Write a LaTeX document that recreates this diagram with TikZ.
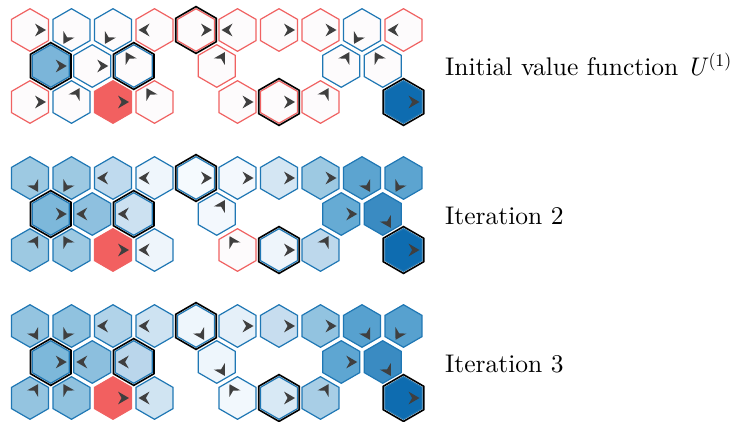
\documentclass[tikz,border=0pt]{standalone}
\usepackage{fontspec}
\newfontfamily\labfont{lmroman10-regular.otf}[ItalicFont=lmroman10-italic.otf]
\usetikzlibrary{shapes.geometric}
\definecolor{redl}{HTML}{F06262}
\definecolor{bluel}{HTML}{1F77B4}
\definecolor{arrowc}{HTML}{3F3F3F}
\tikzset{
  hexcell/.style={regular polygon, regular polygon sides=6, shape border rotate=30,
    minimum size=42.6pt, inner sep=0pt, outer sep=0pt, line width=1.2pt},
  hexblack/.style={regular polygon, regular polygon sides=6, shape border rotate=30,
    minimum size=46.8pt, inner sep=0pt, outer sep=0pt, line width=1.6pt, draw=black},
  labeltext/.style={anchor=base west, inner sep=0pt, font=\labfont\fontsize{25.5}{30}\selectfont}
}
\newcommand\gyoff{0}
\newcommand\gname{a}
\newcommand\cell[6]{%
  \pgfmathsetmacro\cx{30+41.5*#2+20.75*mod(#1,2)}%
  \pgfmathsetmacro\cy{-(30+\gyoff+36*#1)}%
  \definecolor{tmpf}{HTML}{#3}%
  \node[hexcell, fill=tmpf, draw=#4] (\gname r#1c#2) at (\cx,\cy) {};
  \ifnum#6=1 \node[hexblack] (\gname r#1c#2k) at (\cx,\cy) {};\fi
  \begin{scope}[shift={(\gname r#1c#2.center)}, rotate=#5]
    \fill[arrowc] (16,0) -- (5,6.4) -- (8.6,0) -- (5,-6.4) -- cycle;
  \end{scope}
}
\begin{document}
\begin{tikzpicture}[x=1pt,y=1pt]
\useasboundingbox[fill=white] (0,0) rectangle (746,-422);
% ---------- grid 1 ----------
\renewcommand\gyoff{0}\renewcommand\gname{a}
\cell{0}{0}{FDFBFC}{redl}{0}{0}
\cell{0}{1}{FDFBFC}{bluel}{240}{0}
\cell{0}{2}{FDFBFC}{bluel}{240}{0}
\cell{0}{3}{FDFBFC}{redl}{180}{0}
\cell{0}{4}{FDFBFC}{redl}{0}{1}
\cell{0}{5}{FDFBFC}{redl}{180}{0}
\cell{0}{6}{FDFBFC}{redl}{0}{0}
\cell{0}{7}{FDFBFC}{redl}{0}{0}
\cell{0}{8}{FDFBFC}{bluel}{240}{0}
\cell{0}{9}{FDFBFC}{redl}{180}{0}
\cell{1}{0}{7BB5D9}{bluel}{0}{1}
\cell{1}{1}{FDFBFC}{bluel}{0}{0}
\cell{1}{2}{FDFBFC}{bluel}{120}{1}
\cell{1}{4}{FDFBFC}{redl}{60}{0}
\cell{1}{7}{FDFBFC}{bluel}{60}{0}
\cell{1}{8}{FDFBFC}{bluel}{120}{0}
\cell{2}{0}{FDFBFC}{redl}{0}{0}
\cell{2}{1}{FDFBFC}{bluel}{60}{0}
\cell{2}{2}{F26060}{redl}{0}{0}
\cell{2}{3}{FDFBFC}{redl}{120}{0}
\cell{2}{5}{FDFBFC}{redl}{0}{0}
\cell{2}{6}{FDFBFC}{redl}{0}{1}
\cell{2}{7}{FDFBFC}{redl}{60}{0}
\cell{2}{9}{0E6CB0}{bluel}{0}{1}
\node[labeltext] (lab1) at (445,-76) {Initial value function \textit{U}\textsuperscript{(1)}};
% ---------- grid 2 ----------
\renewcommand\gyoff{148}\renewcommand\gname{b}
\cell{0}{0}{9DC9E2}{bluel}{300}{0}
\cell{0}{1}{9DC9E2}{bluel}{240}{0}
\cell{0}{2}{BFDAEE}{bluel}{180}{0}
\cell{0}{3}{EFF6FC}{bluel}{180}{0}
\cell{0}{4}{F5FAFE}{bluel}{0}{1}
\cell{0}{5}{F3F8FD}{bluel}{0}{0}
\cell{0}{6}{D4E6F3}{bluel}{0}{0}
\cell{0}{7}{9DC9E2}{bluel}{0}{0}
\cell{0}{8}{5CA4D0}{bluel}{300}{0}
\cell{0}{9}{5CA4D0}{bluel}{240}{0}
\cell{1}{0}{7DB8DA}{bluel}{0}{1}
\cell{1}{1}{8EC0DF}{bluel}{180}{0}
\cell{1}{2}{CCE1F1}{bluel}{180}{1}
\cell{1}{4}{F3F8FD}{bluel}{60}{0}
\cell{1}{7}{66ABD4}{bluel}{0}{0}
\cell{1}{8}{3A8BC2}{bluel}{300}{0}
\cell{2}{0}{9DC9E2}{bluel}{60}{0}
\cell{2}{1}{9DC9E2}{bluel}{120}{0}
\cell{2}{2}{F26060}{redl}{0}{0}
\cell{2}{3}{EEF5FB}{bluel}{180}{0}
\cell{2}{5}{FDFBFC}{redl}{120}{0}
\cell{2}{6}{EEF5FB}{bluel}{0}{1}
\cell{2}{7}{BDD8EC}{bluel}{60}{0}
\cell{2}{9}{0E6CB0}{bluel}{0}{1}
\node[labeltext] (lab2) at (445,-224) {Iteration 2};
% ---------- grid 3 ----------
\renewcommand\gyoff{296}\renewcommand\gname{c}
\cell{0}{0}{94C4E0}{bluel}{300}{0}
\cell{0}{1}{90C2DF}{bluel}{240}{0}
\cell{0}{2}{B1D3E9}{bluel}{180}{0}
\cell{0}{3}{CEE3F2}{bluel}{180}{0}
\cell{0}{4}{EEF6FC}{bluel}{300}{1}
\cell{0}{5}{E5F0F9}{bluel}{0}{0}
\cell{0}{6}{C7DDEF}{bluel}{0}{0}
\cell{0}{7}{92C3E0}{bluel}{0}{0}
\cell{0}{8}{57A1CF}{bluel}{300}{0}
\cell{0}{9}{57A1CF}{bluel}{240}{0}
\cell{1}{0}{7DB8DA}{bluel}{0}{1}
\cell{1}{1}{8CBFDE}{bluel}{180}{0}
\cell{1}{2}{BAD6EB}{bluel}{180}{1}
\cell{1}{4}{EEF6FC}{bluel}{300}{0}
\cell{1}{7}{5EA6D2}{bluel}{0}{0}
\cell{1}{8}{3A8BC2}{bluel}{300}{0}
\cell{2}{0}{94C4E0}{bluel}{60}{0}
\cell{2}{1}{90C2DF}{bluel}{120}{0}
\cell{2}{2}{F26060}{redl}{0}{0}
\cell{2}{3}{D0E4F2}{bluel}{180}{0}
\cell{2}{5}{F2F8FD}{bluel}{120}{0}
\cell{2}{6}{D8E9F5}{bluel}{0}{1}
\cell{2}{7}{A8CEE6}{bluel}{60}{0}
\cell{2}{9}{0E6CB0}{bluel}{0}{1}
\node[labeltext] (lab3) at (445,-372) {Iteration 3};
\end{tikzpicture}
\end{document}
